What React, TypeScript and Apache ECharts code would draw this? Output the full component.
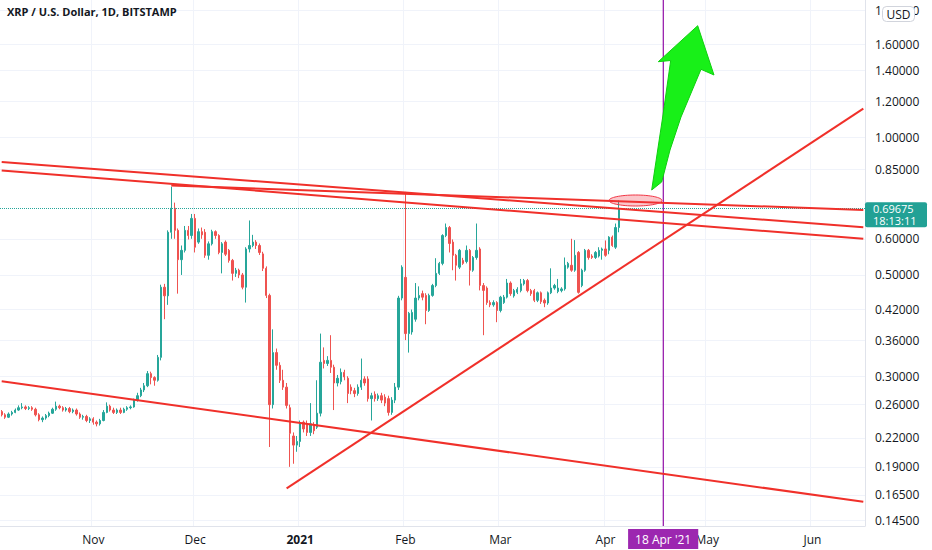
import React, { useEffect, useRef } from 'react';
import * as echarts from 'echarts';

const TITLE = 'XRP / U.S. Dollar, 1D, BITSTAMP';
const START_UTC = Date.UTC(2020, 9, 5);
const AXIS_DAYS = 255;
const MONTHS = ['Jan', 'Feb', 'Mar', 'Apr', 'May', 'Jun', 'Jul', 'Aug', 'Sep', 'Oct', 'Nov', 'Dec'];

// [open, close, low, high]
const candles: number[][] = [
  [0.251, 0.247, 0.245, 0.253], [0.247, 0.244, 0.242, 0.249], [0.244, 0.248, 0.243, 0.25], [0.248, 0.25, 0.246, 0.252],
  [0.25, 0.253, 0.249, 0.255], [0.253, 0.256, 0.252, 0.259], [0.256, 0.257, 0.254, 0.262], [0.257, 0.255, 0.253, 0.259],
  [0.255, 0.256, 0.253, 0.258], [0.256, 0.254, 0.252, 0.258], [0.254, 0.247, 0.245, 0.256], [0.247, 0.241, 0.239, 0.249],
  [0.241, 0.243, 0.238, 0.245], [0.243, 0.246, 0.241, 0.248], [0.246, 0.249, 0.244, 0.251], [0.249, 0.254, 0.248, 0.256],
  [0.254, 0.258, 0.252, 0.264], [0.258, 0.256, 0.254, 0.26], [0.256, 0.253, 0.251, 0.258], [0.253, 0.255, 0.251, 0.257],
  [0.255, 0.251, 0.249, 0.257], [0.251, 0.253, 0.249, 0.255], [0.253, 0.248, 0.246, 0.255], [0.248, 0.244, 0.242, 0.25],
  [0.244, 0.245, 0.241, 0.247], [0.245, 0.24, 0.238, 0.247], [0.24, 0.242, 0.237, 0.244], [0.242, 0.238, 0.235, 0.244],
  [0.238, 0.236, 0.233, 0.24], [0.236, 0.24, 0.234, 0.242], [0.24, 0.25, 0.239, 0.253], [0.25, 0.258, 0.249, 0.263],
  [0.258, 0.253, 0.251, 0.26], [0.253, 0.25, 0.248, 0.256], [0.25, 0.253, 0.248, 0.255], [0.253, 0.25, 0.248, 0.256],
  [0.25, 0.254, 0.249, 0.256], [0.254, 0.256, 0.252, 0.258], [0.256, 0.257, 0.254, 0.259], [0.257, 0.266, 0.256, 0.268],
  [0.266, 0.272, 0.264, 0.276], [0.272, 0.28, 0.27, 0.283], [0.28, 0.286, 0.277, 0.29], [0.286, 0.304, 0.284, 0.308],
  [0.304, 0.298, 0.288, 0.307],
  [0.298, 0.294, 0.286, 0.3], [0.294, 0.33, 0.292, 0.334], [0.33, 0.47, 0.325, 0.476], [0.47, 0.45, 0.4, 0.478],
  [0.45, 0.62, 0.43, 0.626], [0.62, 0.7, 0.6, 0.78], [0.7, 0.626, 0.6, 0.72], [0.626, 0.54, 0.455, 0.632],
  [0.54, 0.566, 0.5, 0.58], [0.566, 0.626, 0.56, 0.64], [0.626, 0.61, 0.598, 0.64], [0.61, 0.665, 0.6, 0.68],
  [0.665, 0.575, 0.56, 0.68], [0.59, 0.622, 0.585, 0.632], [0.622, 0.612, 0.6, 0.635], [0.62, 0.552, 0.545, 0.63],
  [0.552, 0.585, 0.54, 0.592], [0.585, 0.622, 0.58, 0.628], [0.622, 0.61, 0.6, 0.626], [0.61, 0.56, 0.555, 0.614],
  [0.56, 0.585, 0.504, 0.59], [0.59, 0.555, 0.55, 0.595], [0.566, 0.538, 0.532, 0.57], [0.538, 0.504, 0.486, 0.542],
  [0.504, 0.512, 0.495, 0.518], [0.512, 0.5, 0.492, 0.516], [0.5, 0.47, 0.465, 0.505], [0.47, 0.57, 0.435, 0.575],
  [0.57, 0.58, 0.56, 0.658], [0.58, 0.59, 0.575, 0.612], [0.59, 0.58, 0.57, 0.596], [0.58, 0.56, 0.553, 0.586],
  [0.556, 0.517, 0.51, 0.562], [0.517, 0.451, 0.445, 0.522], [0.451, 0.26, 0.21, 0.455], [0.26, 0.338, 0.255, 0.38],
  [0.338, 0.317, 0.31, 0.345], [0.317, 0.294, 0.29, 0.322], [0.294, 0.284, 0.28, 0.31], [0.284, 0.259, 0.255, 0.29],
  [0.256, 0.225, 0.19, 0.26], [0.222, 0.212, 0.193, 0.226], [0.212, 0.216, 0.205, 0.222], [0.216, 0.236, 0.21, 0.24],
  [0.238, 0.23, 0.226, 0.24], [0.236, 0.226, 0.222, 0.24], [0.226, 0.236, 0.222, 0.262], [0.234, 0.228, 0.224, 0.238],
  [0.232, 0.249, 0.23, 0.294], [0.249, 0.322, 0.245, 0.372], [0.325, 0.32, 0.312, 0.347], [0.32, 0.325, 0.316, 0.332],
  [0.325, 0.314, 0.305, 0.369], [0.314, 0.29, 0.253, 0.318], [0.29, 0.297, 0.285, 0.302], [0.292, 0.306, 0.288, 0.312],
  [0.306, 0.299, 0.294, 0.31], [0.297, 0.275, 0.262, 0.3], [0.284, 0.279, 0.274, 0.288], [0.279, 0.275, 0.27, 0.283],
  [0.275, 0.284, 0.272, 0.288], [0.284, 0.294, 0.28, 0.328], [0.296, 0.29, 0.286, 0.3], [0.296, 0.268, 0.264, 0.3],
  [0.268, 0.272, 0.24, 0.276], [0.274, 0.268, 0.264, 0.278], [0.268, 0.272, 0.265, 0.275], [0.272, 0.266, 0.262, 0.276],
  [0.27, 0.262, 0.258, 0.274], [0.268, 0.25, 0.246, 0.272], [0.25, 0.266, 0.247, 0.27], [0.266, 0.284, 0.262, 0.29],
  [0.284, 0.445, 0.28, 0.45], [0.445, 0.52, 0.44, 0.525], [0.494, 0.372, 0.36, 0.76], [0.372, 0.412, 0.338, 0.415],
  [0.375, 0.414, 0.37, 0.42], [0.4, 0.445, 0.395, 0.48], [0.445, 0.451, 0.44, 0.472], [0.455, 0.447, 0.44, 0.462],
  [0.451, 0.418, 0.39, 0.456], [0.418, 0.451, 0.415, 0.455], [0.451, 0.474, 0.448, 0.478], [0.474, 0.504, 0.47, 0.544],
  [0.504, 0.53, 0.5, 0.534], [0.53, 0.61, 0.525, 0.614], [0.61, 0.635, 0.605, 0.648], [0.635, 0.586, 0.56, 0.64],
  [0.59, 0.552, 0.512, 0.598], [0.552, 0.525, 0.486, 0.556], [0.52, 0.566, 0.515, 0.57], [0.538, 0.53, 0.526, 0.545],
  [0.535, 0.566, 0.53, 0.58], [0.566, 0.512, 0.474, 0.57], [0.512, 0.546, 0.508, 0.55], [0.546, 0.566, 0.54, 0.648],
  [0.57, 0.474, 0.4625, 0.575], [0.474, 0.4625, 0.369, 0.48], [0.468, 0.435, 0.43, 0.472], [0.435, 0.43, 0.425, 0.44],
  [0.43, 0.435, 0.426, 0.44], [0.435, 0.418, 0.394, 0.438], [0.418, 0.447, 0.414, 0.45], [0.435, 0.447, 0.432, 0.452],
  [0.447, 0.48, 0.444, 0.49], [0.48, 0.455, 0.45, 0.484], [0.45, 0.462, 0.446, 0.466], [0.458, 0.465, 0.454, 0.47],
  [0.462, 0.478, 0.458, 0.49], [0.478, 0.486, 0.474, 0.49], [0.486, 0.462, 0.458, 0.49], [0.462, 0.455, 0.45, 0.466],
  [0.462, 0.44, 0.436, 0.466], [0.44, 0.457, 0.436, 0.46], [0.457, 0.437, 0.432, 0.46], [0.44, 0.434, 0.425, 0.444],
  [0.434, 0.457, 0.43, 0.46], [0.457, 0.468, 0.454, 0.517], [0.468, 0.474, 0.464, 0.478], [0.46, 0.468, 0.456, 0.49],
  [0.462, 0.466, 0.458, 0.47], [0.466, 0.525, 0.462, 0.546], [0.52, 0.53, 0.516, 0.534], [0.525, 0.512, 0.508, 0.6],
  [0.512, 0.552, 0.508, 0.596], [0.56, 0.458, 0.455, 0.564], [0.474, 0.512, 0.47, 0.516], [0.512, 0.566, 0.508, 0.57],
  [0.566, 0.546, 0.54, 0.57], [0.55, 0.546, 0.542, 0.555], [0.546, 0.56, 0.542, 0.564], [0.55, 0.566, 0.546, 0.575],
  [0.566, 0.57, 0.54, 0.574], [0.57, 0.552, 0.548, 0.595], [0.566, 0.605, 0.555, 0.608], [0.605, 0.58, 0.576, 0.61],
  [0.575, 0.635, 0.57, 0.648], [0.635, 0.69675, 0.62, 0.728],
];

const priceTicks = [0.145, 0.165, 0.19, 0.22, 0.26, 0.3, 0.36, 0.42, 0.5, 0.6, 0.85, 1.0, 1.2, 1.4, 1.6, 1.9];
const PRICE_MIN = 0.141;
const PRICE_MAX = 2.0;
const LAST_PRICE = 0.69675;
const LAST_TIME = '18:13:11';
const MARKER_DATE = '2021-04-18';
const MARKER_LABEL = "18 Apr '21";
const CURRENCY = 'USD';

// trend lines: [startDate, startPrice, endDate, endPrice]
const trendLines: [string, number, string, number][] = [
  ['2020-11-24', 0.785, '2021-06-16', 0.694],
  ['2020-10-05', 0.884, '2021-06-16', 0.636],
  ['2020-10-05', 0.847, '2021-06-16', 0.6],
  ['2020-12-28', 0.1705, '2021-06-16', 1.157],
  ['2020-10-05', 0.2925, '2021-06-16', 0.1593],
];

const UP = '#26a69a';
const DOWN = '#ef5350';
const LINE_RED = '#f0302a';
const PURPLE = '#9c27b0';
const GRID = '#f0f3fa';
const TEXT = '#131722';
const FONT = 'Open Sans';

const dates: string[] = Array.from({ length: AXIS_DAYS }, (_, i) =>
  new Date(START_UTC + i * 86400000).toISOString().slice(0, 10)
);

const isMonthStart = (_i: number, v: string) => typeof v === 'string' && v.endsWith('-01');

export default function App() {
  const ref = useRef<HTMLDivElement>(null);
  useEffect(() => {
    document.body.style.margin = '0';
    const chart = echarts.init(ref.current!, null, { renderer: 'svg' });
    const option: any = {
      animation: false,
      backgroundColor: '#ffffff',
      grid: { left: 0, right: 67, top: 0, bottom: 24, containLabel: false, outerBoundsMode: 'none' },
      xAxis: {
        type: 'category',
        data: dates,
        boundaryGap: true,
        axisLine: { show: true, lineStyle: { color: '#e0e3eb' } },
        axisTick: { show: false },
        axisLabel: {
          interval: isMonthStart,
          color: TEXT,
          fontSize: 12,
          fontFamily: FONT,
          margin: 7,
          formatter: (v: string) => {
            const m = parseInt(v.slice(5, 7), 10) - 1;
            if (m === 0) return '{b|' + v.slice(0, 4) + '}';
            return MONTHS[m];
          },
          rich: { b: { fontWeight: 'bold', fontSize: 12, fontFamily: FONT, color: TEXT } },
        },
        splitLine: { show: true, interval: isMonthStart, lineStyle: { color: GRID, width: 1 } },
      },
      yAxis: {
        type: 'log',
        logBase: 10,
        position: 'right',
        min: PRICE_MIN,
        max: PRICE_MAX,
        axisLine: { show: true, lineStyle: { color: '#e0e3eb' } },
        axisTick: { show: false, customValues: priceTicks },
        axisLabel: {
          customValues: priceTicks,
          color: TEXT,
          fontSize: 12,
          fontFamily: FONT,
          margin: 10,
          formatter: (v: number) => Number(v).toFixed(5),
        },
        splitLine: { show: true, customValues: priceTicks, lineStyle: { color: GRID, width: 1 } },
      },
      series: [
        {
          type: 'candlestick',
          data: candles,
          barWidth: '55%',
          itemStyle: { color: UP, color0: DOWN, borderColor: UP, borderColor0: DOWN, borderWidth: 1 },
          z: 2,
          markLine: {
            silent: true,
            symbol: ['none', 'none'],
            animation: false,
            lineStyle: { color: UP, type: 'dotted', width: 1 },
            label: { show: false },
            data: [{ yAxis: LAST_PRICE }],
          },
        },
        ...trendLines.map((t) => ({
          type: 'line',
          data: [
            [t[0], t[1]],
            [t[2], t[3]],
          ],
          symbol: 'none',
          silent: true,
          z: 5,
          lineStyle: { color: LINE_RED, width: 2 },
        })),
        {
          type: 'line',
          name: 'marker',
          data: [
            [MARKER_DATE, PRICE_MIN],
            [MARKER_DATE, PRICE_MAX],
          ],
          symbol: 'none',
          silent: true,
          z: 4,
          lineStyle: { color: PURPLE, width: 1 },
          markLine: {
            silent: true,
            symbol: ['none', 'none'],
            animation: false,
            lineStyle: { color: PURPLE, type: 'solid', width: 1 },
            label: {
              show: true,
              position: 'start',
              distance: 3,
              formatter: MARKER_LABEL,
              color: '#ffffff',
              backgroundColor: PURPLE,
              padding: [4, 7, 4, 7],
              fontSize: 12,
              fontFamily: FONT,
            },
            data: [{ xAxis: MARKER_DATE }],
          },
        },
      ],
    };
    chart.setOption(option);

    const py = chart.convertToPixel({ yAxisIndex: 0 }, LAST_PRICE) as number;
    chart.setOption({
      graphic: [
        {
          type: 'text',
          left: 7,
          top: 6,
          style: { text: TITLE, fill: TEXT, fontSize: 11, fontWeight: 'bold', fontFamily: FONT },
          z: 20,
        },
        {
          type: 'ellipse',
          shape: { cx: 635.5, cy: 200.5, rx: 26.5, ry: 5.5 },
          style: { fill: 'rgba(242, 54, 69, 0.28)', stroke: '#f23645', lineWidth: 1 },
          z: 15,
        },
        {
          type: 'polygon',
          shape: {
            points: [
              [651.7, 190], [657.7, 150], [662.7, 117], [670.7, 60.5], [658.3, 61.7], [697.7, 25.7],
              [714, 75], [701, 69.3], [681, 117], [670, 150], [661.7, 182],
            ],
          },
          style: { fill: '#18f018', stroke: '#0fcf0f', lineWidth: 1 },
          z: 16,
        },
        {
          type: 'group',
          z: 30,
          children: [
            {
              type: 'rect',
              shape: { x: 865, y: py - 7, width: 62, height: 25, r: 2 },
              style: { fill: '#22a195' },
              z: 30,
            },
            {
              type: 'text',
              x: 873,
              y: py - 6.5,
              style: {
                text: LAST_PRICE.toFixed(5) + '\n' + LAST_TIME,
                fill: '#ffffff', fontSize: 11, lineHeight: 12, fontFamily: FONT,
                textVerticalAlign: 'top', verticalAlign: 'top',
              },
              z: 31,
            },
          ],
        },
        {
          type: 'group',
          z: 30,
          children: [
            {
              type: 'rect',
              shape: { x: 882.5, y: 6.5, width: 32, height: 15, r: 4 },
              style: { fill: '#ffffff', stroke: '#d1d4dc', lineWidth: 1 },
              z: 30,
            },
            {
              type: 'text',
              x: 898.5,
              y: 14,
              style: {
                text: CURRENCY, fill: TEXT, fontSize: 12, fontFamily: FONT,
                textAlign: 'center', align: 'center', textVerticalAlign: 'middle', verticalAlign: 'middle',
              },
              z: 31,
            },
          ],
        },
      ],
    });
    return () => chart.dispose();
  }, []);
  return <div ref={ref} style={{ width: 932, height: 550 }} />;
}
